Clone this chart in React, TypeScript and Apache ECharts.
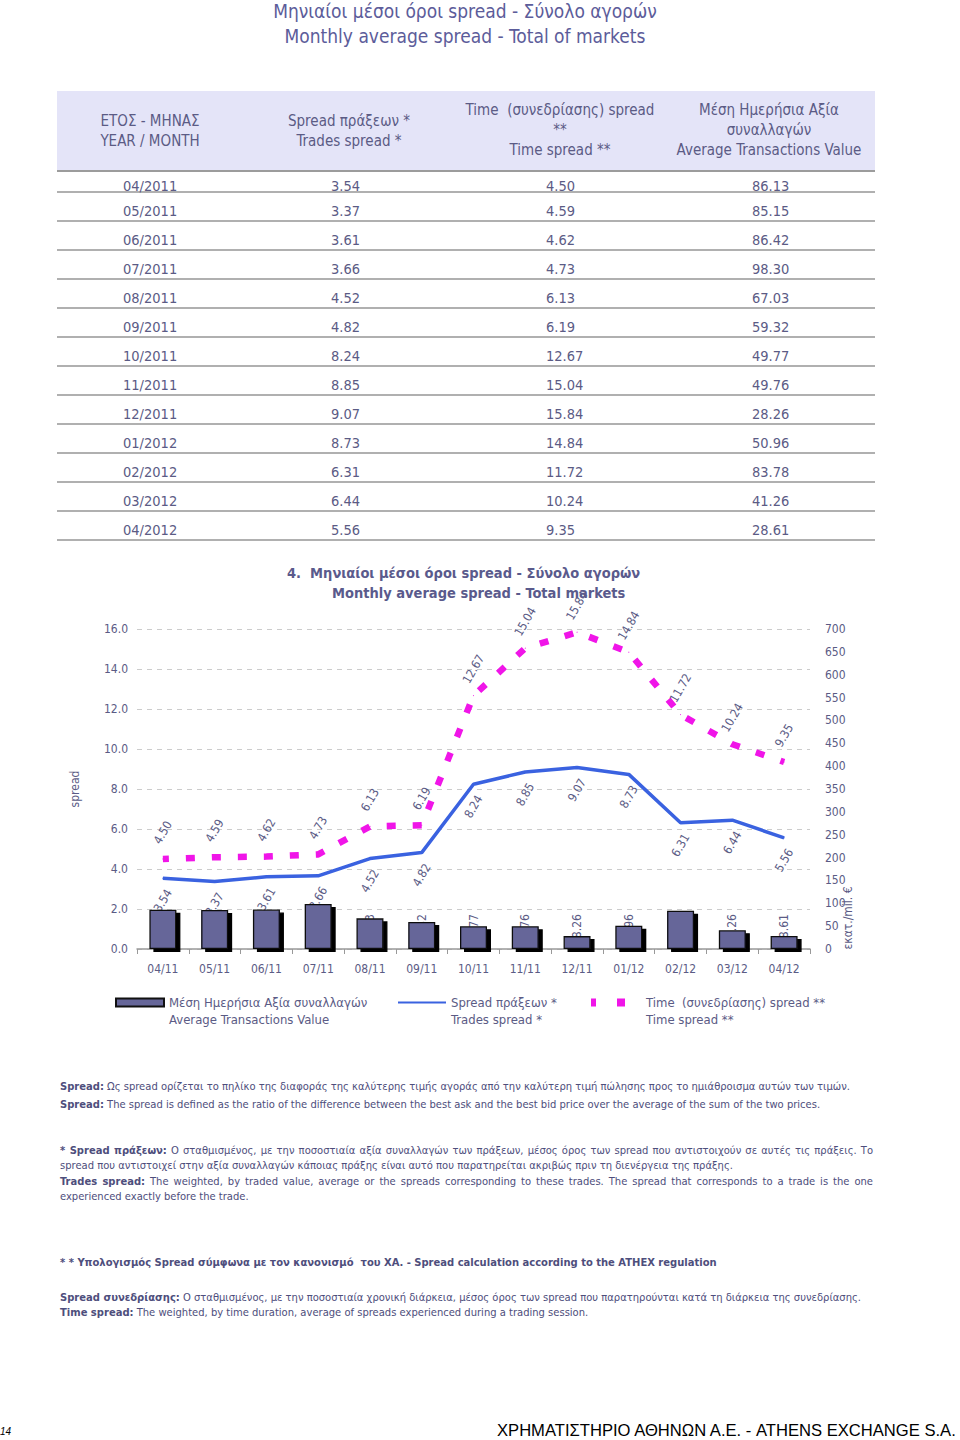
import React, { useEffect, useRef } from "react";
import * as echarts from "echarts";

const months = ["04/11", "05/11", "06/11", "07/11", "08/11", "09/11", "10/11", "11/11", "12/11", "01/12", "02/12", "03/12", "04/12"];
const tableMonths = ["04/2011", "05/2011", "06/2011", "07/2011", "08/2011", "09/2011", "10/2011", "11/2011", "12/2011", "01/2012", "02/2012", "03/2012", "04/2012"];
const tradesSpread = [3.54, 3.37, 3.61, 3.66, 4.52, 4.82, 8.24, 8.85, 9.07, 8.73, 6.31, 6.44, 5.56];
const timeSpread = [4.5, 4.59, 4.62, 4.73, 6.13, 6.19, 12.67, 15.04, 15.84, 14.84, 11.72, 10.24, 9.35];
const avgValue = [86.13, 85.15, 86.42, 98.3, 67.03, 59.32, 49.77, 49.76, 28.26, 50.96, 83.78, 41.26, 28.61];

const FONT = "'DejaVu Sans Condensed', 'DejaVu Sans', sans-serif";
const TXT = "#5b5b85";
const TITLE = "#5c5c9a";

const barName = "Μέση Ημερήσια Αξία συναλλαγών\nAverage Transactions Value";
const tradesName = "Spread πράξεων *\nTrades spread *";
const timeName = "Time  (συνεδρίασης) spread **\nTime spread **";

function Chart() {
  const ref = useRef<HTMLDivElement>(null);
  useEffect(() => {
    const chart = echarts.init(ref.current!, null, { renderer: "svg" });
    const lbl = { fontFamily: FONT, fontSize: 12, color: TXT };
    const legendText = { fontFamily: FONT, fontSize: 13, color: TXT, lineHeight: 17 };
    const titleStyle = { fontFamily: FONT, fontSize: 14.5, fontWeight: "bold", color: "#5a5a8c", lineHeight: 20 };
    const legendBase = {
      top: 422, padding: 0, itemWidth: 48, itemHeight: 8, itemGap: 0, selectedMode: false,
      textStyle: legendText, formatter: (n: string) => " \n" + n,
    };
    chart.setOption({
      animation: false,
      title: [
        { text: "4.  Μηνιαίοι μέσοι όροι spread - Σύνολο αγορών", left: 287, top: 8, padding: 0, textStyle: titleStyle },
        { text: "Monthly average spread - Total markets", left: 332, top: 28, padding: 0, textStyle: titleStyle },
      ],
      legend: [
        { ...legendBase, left: 115, data: [{ name: barName, icon: "rect" }] },
        { ...legendBase, left: 397, data: [{ name: tradesName, itemStyle: { opacity: 0 } }] },
        {
          ...legendBase, left: 587, itemWidth: 50,
          data: [{ name: timeName, itemStyle: { opacity: 0 }, lineStyle: { type: [8, 21], width: 8 } }],
        },
      ],
      grid: { left: 137, right: 150, top: 74, height: 320 },
      xAxis: {
        type: "category",
        data: months,
        axisLine: { lineStyle: { color: "#999", width: 1.5 } },
        axisTick: { show: true, length: 5, lineStyle: { color: "#999" } },
        axisLabel: { ...lbl, margin: 14 },
      },
      yAxis: [
        {
          type: "value", min: 0, max: 16, interval: 2,
          name: "spread", nameLocation: "middle", nameGap: 56,
          nameTextStyle: { ...lbl },
          axisLabel: { ...lbl, margin: 9, formatter: (v: number) => v.toFixed(1) },
          splitLine: { lineStyle: { type: [5, 5], color: "#cccccc" } },
          axisLine: { show: false }, axisTick: { show: false },
        },
        {
          type: "value", min: 0, max: 700, interval: 50, position: "right",
          axisLabel: { ...lbl, margin: 15 },
          splitLine: { show: false }, axisLine: { show: false }, axisTick: { show: false },
        },
      ],
      graphic: [
        {
          type: "text", x: 848, y: 363, rotation: Math.PI / 2, z: 10,
          style: { text: "εκατ./mil. €", font: "12px " + FONT, fill: TXT, textAlign: "center", textVerticalAlign: "middle", align: "center", verticalAlign: "middle" },
        },
      ],
      series: [
        {
          name: barName, type: "bar", yAxisIndex: 1, data: avgValue, barWidth: 27, barGap: "-100%", z: 3,
          itemStyle: { color: "#666699", borderColor: "#111", borderWidth: 1.3, shadowColor: "#000", shadowOffsetX: 4, shadowOffsetY: 3, shadowBlur: 0 },
        },
        {
          name: barName, type: "bar", yAxisIndex: 1, data: avgValue, barWidth: 27, barGap: "-100%", z: 1, silent: true,
          itemStyle: { color: "rgba(0,0,0,0)" },
          label: { show: true, position: "insideBottom", distance: 4, rotate: 90, align: "left", verticalAlign: "middle", formatter: (p: any) => p.value.toFixed(2), ...lbl },
        },
        {
          name: tradesName, type: "line", data: tradesSpread, z: 2, symbol: "circle", symbolSize: 1, showSymbol: true,
          lineStyle: { color: "#3a62e0", width: 3.5 }, itemStyle: { color: "#3a62e0" },
          label: { show: true, position: "bottom", distance: 22, rotate: 60, align: "center", verticalAlign: "middle", formatter: (p: any) => p.value.toFixed(2), ...lbl },
        },
        {
          name: timeName, type: "line", data: timeSpread, z: 2, symbol: "circle", symbolSize: 1, showSymbol: true,
          lineStyle: { color: "#f015e8", width: 6.5, type: [9, 17], dashOffset: 3 }, itemStyle: { color: "#f015e8" },
          label: { show: true, position: "top", distance: 26, rotate: 60, align: "center", verticalAlign: "middle", formatter: (p: any) => p.value.toFixed(2), ...lbl },
        },
      ],
    });
    return () => chart.dispose();
  }, []);
  return <div ref={ref} style={{ position: "absolute", left: 0, top: 555, width: 960, height: 485 }} />;
}

const headerCells = [
  { cx: 150, top: 111, lines: ["ΕΤΟΣ - ΜΗΝΑΣ", "YEAR / MONTH"] },
  { cx: 349, top: 111, lines: ["Spread πράξεων *", "Trades spread *"] },
  { cx: 560, top: 100, lines: ["Time  (συνεδρίασης) spread", "**", "Time spread **"] },
  { cx: 769, top: 100, lines: ["Μέση Ημερήσια Αξία", "συναλλαγών", "Average Transactions Value"] },
];
const colLeft = [123, 331, 546, 752];

function Note({ top, bold, text, justify }: { top: number; bold?: string; text: string; justify?: boolean }) {
  return (
    <div
      style={{
        position: "absolute", left: 60, top: top - 7, width: justify ? 813 : 880, fontSize: 11.1, lineHeight: "14px",
        whiteSpace: "pre", color: "#4e4e7c",
        textAlign: justify ? "justify" : "left", textAlignLast: justify ? "justify" : "auto",
      } as any}
    >
      {bold ? <b>{bold}</b> : null}
      {text}
    </div>
  );
}

export default function App() {
  const rows = tableMonths.map((m, i) => [m, tradesSpread[i].toFixed(2), timeSpread[i].toFixed(2), avgValue[i].toFixed(2)]);
  return (
    <div style={{ position: "absolute", left: 0, top: 0, width: 960, height: 1440, background: "#fff", fontFamily: FONT, color: TXT, overflow: "hidden" }}>
      <div style={{ position: "absolute", left: 0, top: -1, width: 930, textAlign: "center", fontSize: 19, lineHeight: "25px", color: TITLE }}>
        <div>Μηνιαίοι μέσοι όροι spread - Σύνολο αγορών</div>
        <div>Monthly average spread - Total of markets</div>
      </div>
      <div style={{ position: "absolute", left: 57, top: 91, width: 818, height: 79, background: "#e4e4f8" }} />
      <div style={{ position: "absolute", left: 57, top: 170, width: 818, height: 2, background: "#9c9c9c" }} />
      {headerCells.map((c, i) => (
        <div key={i} style={{ position: "absolute", left: c.cx - 130, top: c.top, width: 260, textAlign: "center", fontSize: 15, lineHeight: "20px", whiteSpace: "pre" }}>
          {c.lines.map((l, j) => <div key={j}>{l}</div>)}
        </div>
      ))}
      {rows.map((r, i) => {
        const bottom = 192 + 29 * i;
        const center = i === 0 ? 186 : bottom - 10;
        return (
          <React.Fragment key={i}>
            <div style={{ position: "absolute", left: 57, top: bottom - 1, width: 818, height: 1.5, background: "#b0b0b0" }} />
            {r.map((t, j) => (
              <div key={j} style={{ position: "absolute", left: colLeft[j], top: center - 10, fontSize: 14.5, lineHeight: "20px" }}>{t}</div>
            ))}
          </React.Fragment>
        );
      })}
      <Chart />
      <Note top={1087} bold="Spread:" text=" Ως spread ορίζεται το πηλίκο της διαφοράς της καλύτερης τιμής αγοράς από την καλύτερη τιμή πώλησης προς το ημιάθροισμα αυτών των τιμών." />
      <Note top={1105} bold="Spread:" text=" The spread is defined as the ratio of the difference between the best ask and the best bid price over the average of the sum of the two prices." />
      <Note top={1151} justify bold="* Spread πράξεων:" text=" Ο σταθμισμένος, με την ποσοστιαία αξία συναλλαγών των πράξεων, μέσος όρος των spread που αντιστοιχούν σε αυτές τις πράξεις. Το" />
      <Note top={1166} text="spread που αντιστοιχεί στην αξία συναλλαγών κάποιας πράξης είναι αυτό που παρατηρείται ακριβώς πριν τη διενέργεια της πράξης." />
      <Note top={1182} justify bold="Trades spread:" text=" The weighted, by traded value, average or the spreads corresponding to these trades. The spread that corresponds to a trade is the one" />
      <Note top={1197} text="experienced exactly before the trade." />
      <Note top={1263} bold="* * Υπολογισμός Spread σύμφωνα με τον κανονισμό  του ΧΑ. - Spread calculation according to the ATHEX regulation" text="" />
      <Note top={1298} bold="Spread συνεδρίασης:" text=" Ο σταθμισμένος, με την ποσοστιαία χρονική διάρκεια, μέσος όρος των spread που παρατηρούνται κατά τη διάρκεια της συνεδρίασης." />
      <Note top={1313} bold="Time spread:" text=" The weighted, by time duration, average of spreads experienced during a trading session." />
      <div style={{ position: "absolute", left: 0, top: 1426, fontSize: 10, fontStyle: "italic", fontFamily: "'Liberation Sans', Arial, sans-serif", color: "#000" }}>14</div>
      <div style={{ position: "absolute", left: 497, top: 1420, fontSize: 16.6, lineHeight: "22px", whiteSpace: "pre", fontFamily: "'Liberation Sans', Arial, sans-serif", color: "#000" }}>ΧΡΗΜΑΤΙΣΤΗΡΙΟ ΑΘΗΝΩΝ Α.Ε. - ATHENS EXCHANGE S.A.</div>
    </div>
  );
}
